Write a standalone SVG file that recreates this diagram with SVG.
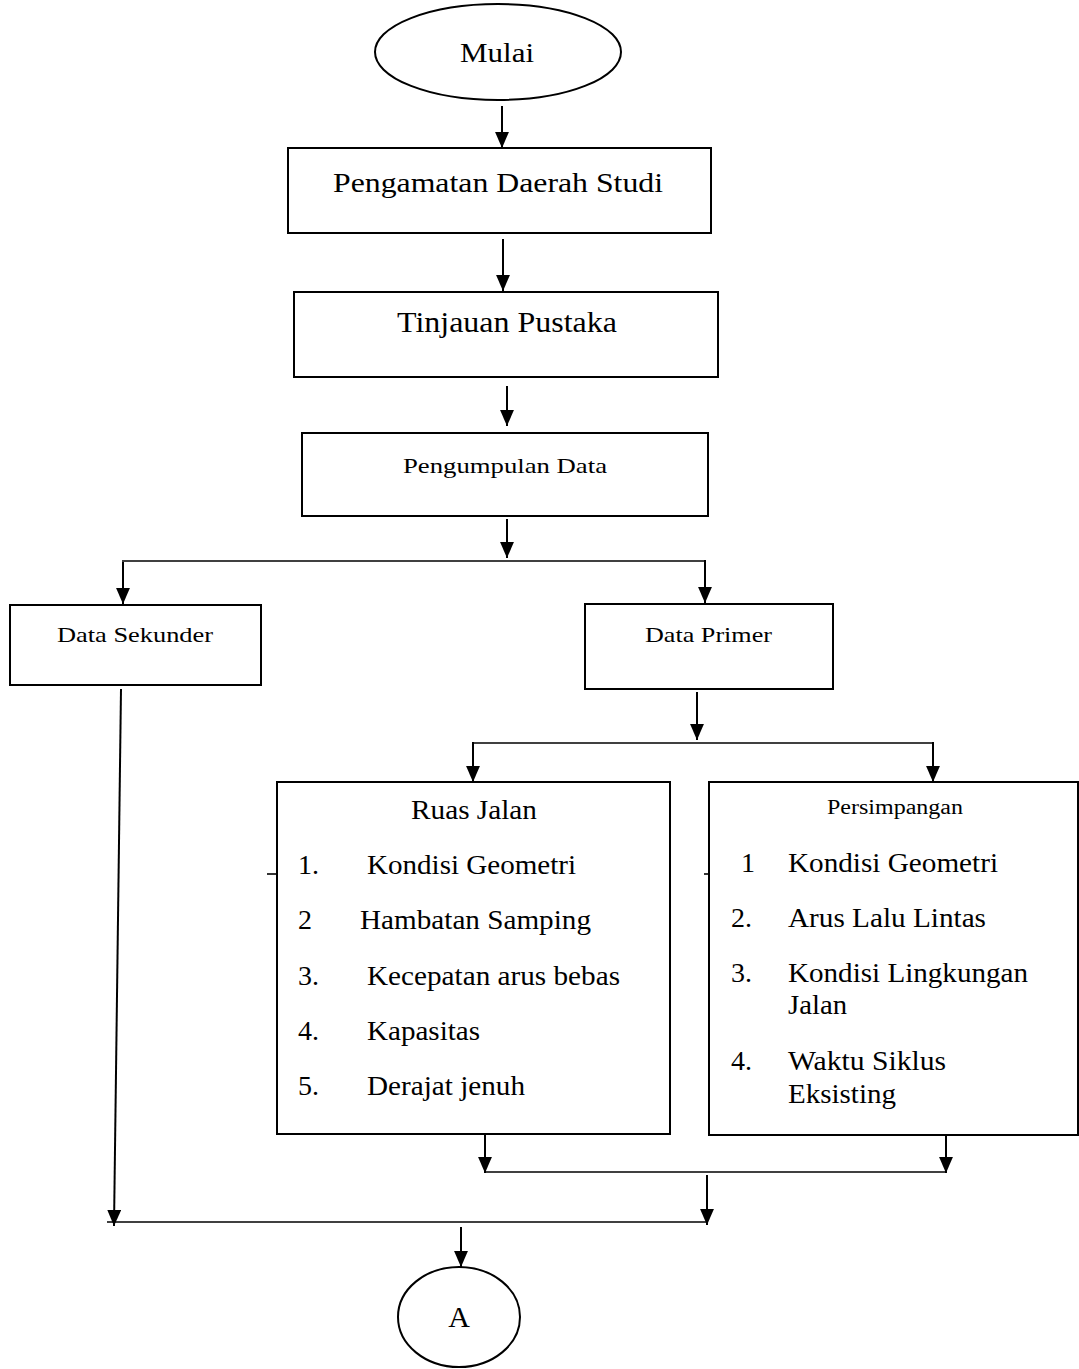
<svg xmlns="http://www.w3.org/2000/svg" width="1079" height="1369" viewBox="0 0 1079 1369">
<style>
.box{fill:#fff;stroke:#000;stroke-width:2}
text{font-family:'Liberation Serif','Times New Roman',Times,serif;fill:#000}
.c{stroke:#000;stroke-width:2;fill:none}
.h{stroke:#000;stroke-width:1.6;fill:none}
</style>
<defs>
<marker id="ah" markerUnits="userSpaceOnUse" markerWidth="16" markerHeight="14" refX="15" refY="6.5" orient="auto" viewBox="0 0 15 13">
<path d="M0,0 L15,6.5 L0,13 z" fill="#000"/>
</marker>
</defs>
<rect width="1079" height="1369" fill="#fff"/>
<g id="connectors">
<line class="c" x1="502" y1="106" x2="502" y2="148" marker-end="url(#ah)"/>
<line class="c" x1="503" y1="239" x2="503" y2="291" marker-end="url(#ah)"/>
<line class="c" x1="507" y1="386" x2="507" y2="426" marker-end="url(#ah)"/>
<line class="c" x1="507" y1="519" x2="507" y2="558" marker-end="url(#ah)"/>
<line class="h" x1="122" y1="561" x2="705" y2="561"/>
<line class="c" x1="123" y1="562" x2="123" y2="604" marker-end="url(#ah)"/>
<line class="c" x1="705" y1="560" x2="705" y2="603" marker-end="url(#ah)"/>
<line class="c" x1="697" y1="692" x2="697" y2="740" marker-end="url(#ah)"/>
<line class="h" x1="473" y1="743" x2="933" y2="743"/>
<line class="c" x1="473" y1="742" x2="473" y2="782" marker-end="url(#ah)"/>
<line class="c" x1="933" y1="742" x2="933" y2="782" marker-end="url(#ah)"/>
<line class="h" x1="267" y1="874" x2="277" y2="874"/>
<line class="h" x1="704" y1="874" x2="709" y2="874"/>
<line class="c" x1="485" y1="1135" x2="485" y2="1173" marker-end="url(#ah)"/>
<line class="c" x1="946" y1="1135" x2="946" y2="1173" marker-end="url(#ah)"/>
<line class="h" x1="485" y1="1172" x2="946" y2="1172"/>
<line class="c" x1="707" y1="1175" x2="707" y2="1225" marker-end="url(#ah)"/>
<line class="c" x1="121" y1="689" x2="114" y2="1226" marker-end="url(#ah)"/>
<line class="h" x1="107" y1="1222" x2="706" y2="1222"/>
<line class="c" x1="461" y1="1227" x2="461" y2="1267" marker-end="url(#ah)"/>
</g>
<g id="mulai">
<ellipse class="box" cx="498" cy="52" rx="123" ry="48"/>
<text x="460" y="62" font-size="28" textLength="74" lengthAdjust="spacingAndGlyphs">Mulai</text>
</g>
<g id="pengamatan">
<rect class="box" x="288" y="148" width="423" height="85"/>
<text x="333" y="192" font-size="27" textLength="330" lengthAdjust="spacingAndGlyphs">Pengamatan Daerah Studi</text>
</g>
<g id="tinjauan">
<rect class="box" x="294" y="292" width="424" height="85"/>
<text x="397" y="332" font-size="30" textLength="220" lengthAdjust="spacingAndGlyphs">Tinjauan Pustaka</text>
</g>
<g id="pengumpulan">
<rect class="box" x="302" y="433" width="406" height="83"/>
<text x="403" y="473" font-size="22" textLength="204" lengthAdjust="spacingAndGlyphs">Pengumpulan Data</text>
</g>
<g id="sekunder">
<rect class="box" x="10" y="605" width="251" height="80"/>
<text x="57" y="642" font-size="22" textLength="156" lengthAdjust="spacingAndGlyphs">Data Sekunder</text>
</g>
<g id="primer">
<rect class="box" x="585" y="604" width="248" height="85"/>
<text x="645" y="642" font-size="22" textLength="127" lengthAdjust="spacingAndGlyphs">Data Primer</text>
</g>
<g id="ruas">
<rect class="box" x="277" y="782" width="393" height="352"/>
<text x="411" y="819" font-size="28" textLength="126" lengthAdjust="spacingAndGlyphs">Ruas Jalan</text>
<text x="298" y="874" font-size="28">1.</text>
<text x="367" y="874" font-size="28" textLength="209" lengthAdjust="spacingAndGlyphs">Kondisi Geometri</text>
<text x="298" y="929" font-size="28">2</text>
<text x="360" y="929" font-size="28" textLength="231" lengthAdjust="spacingAndGlyphs">Hambatan Samping</text>
<text x="298" y="985" font-size="28">3.</text>
<text x="367" y="985" font-size="28" textLength="253" lengthAdjust="spacingAndGlyphs">Kecepatan arus bebas</text>
<text x="298" y="1040" font-size="28">4.</text>
<text x="367" y="1040" font-size="28" textLength="113" lengthAdjust="spacingAndGlyphs">Kapasitas</text>
<text x="298" y="1095" font-size="28">5.</text>
<text x="367" y="1095" font-size="28" textLength="158" lengthAdjust="spacingAndGlyphs">Derajat jenuh</text>
</g>
<g id="persimpangan">
<rect class="box" x="709" y="782" width="369" height="353"/>
<text x="827" y="814" font-size="20" textLength="136" lengthAdjust="spacingAndGlyphs">Persimpangan</text>
<text x="741" y="872" font-size="28">1</text>
<text x="788" y="872" font-size="28" textLength="210" lengthAdjust="spacingAndGlyphs">Kondisi Geometri</text>
<text x="731" y="927" font-size="28">2.</text>
<text x="788" y="927" font-size="28" textLength="198" lengthAdjust="spacingAndGlyphs">Arus Lalu Lintas</text>
<text x="731" y="982" font-size="28">3.</text>
<text x="788" y="982" font-size="28" textLength="240" lengthAdjust="spacingAndGlyphs">Kondisi Lingkungan</text>
<text x="788" y="1014" font-size="28" textLength="59" lengthAdjust="spacingAndGlyphs">Jalan</text>
<text x="731" y="1070" font-size="28">4.</text>
<text x="788" y="1070" font-size="28" textLength="158" lengthAdjust="spacingAndGlyphs">Waktu Siklus</text>
<text x="788" y="1103" font-size="28" textLength="108" lengthAdjust="spacingAndGlyphs">Eksisting</text>
</g>
<g id="a">
<ellipse class="box" cx="459" cy="1317" rx="61" ry="50"/>
<text x="459" y="1327" font-size="30" text-anchor="middle">A</text>
</g>
</svg>
